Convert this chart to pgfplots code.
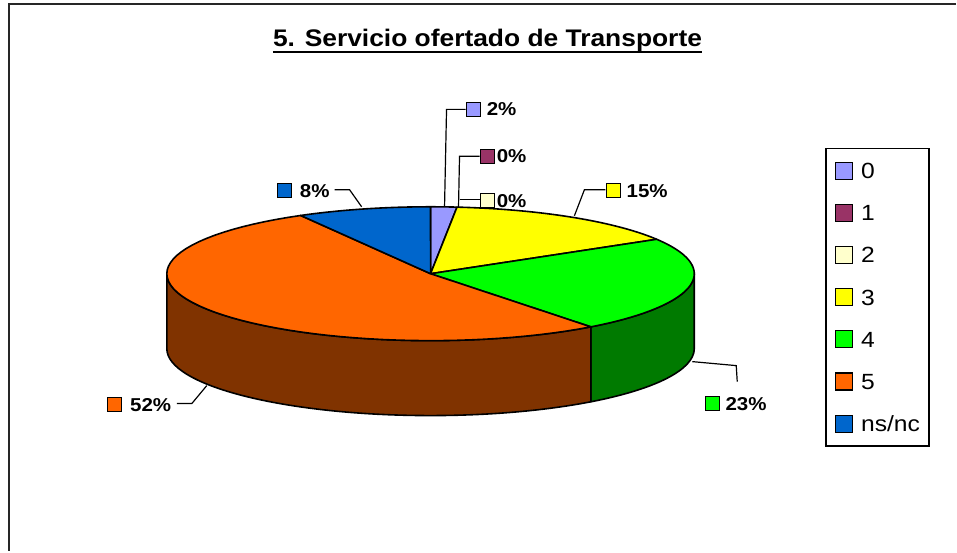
\documentclass[border=0pt]{standalone}
\usepackage{pgfplots}
\pgfplotsset{compat=1.18}
\usepackage{pgfplotstable}
\usepackage{graphicx}
\usepackage{fontspec}
\setmainfont{Liberation Sans}

\definecolor{c0}{HTML}{9999FF}
\definecolor{c1}{HTML}{993366}
\definecolor{c2}{HTML}{FFFFCC}
\definecolor{c3}{HTML}{FFFF00}
\definecolor{c4}{HTML}{00FF00}
\definecolor{c5}{HTML}{FF6600}
\definecolor{c6}{HTML}{0066CC}
\definecolor{s4}{HTML}{007A00}
\definecolor{s5}{HTML}{803300}

% share of each category (percent)
\pgfplotstableread{
cat val
0 1.6
1 0
2 0
3 14.8
4 23.2
5 52.2
ns/nc 8.2
}\piedata

\pgfplotstablegetelem{0}{val}\of\piedata \pgfmathsetmacro\tB{3.6*\pgfplotsretval}
\pgfplotstablegetelem{1}{val}\of\piedata \pgfmathsetmacro\tC{\tB+3.6*\pgfplotsretval}
\pgfplotstablegetelem{2}{val}\of\piedata \pgfmathsetmacro\tD{\tC+3.6*\pgfplotsretval}
\pgfplotstablegetelem{3}{val}\of\piedata \pgfmathsetmacro\tE{\tD+3.6*\pgfplotsretval}
\pgfplotstablegetelem{4}{val}\of\piedata \pgfmathsetmacro\tF{\tE+3.6*\pgfplotsretval}
\pgfplotstablegetelem{5}{val}\of\piedata \pgfmathsetmacro\tG{\tF+3.6*\pgfplotsretval}
\pgfmathsetmacro\sF{90-\tF}
\pgfmathsetmacro\xF{431+264*sin(\tF)}
\pgfmathsetmacro\yFb{274+75-67*cos(\tF)}

\newcommand{\lbl}{\bfseries\fontsize{14}{16}\selectfont}
\newcommand{\slice}[3]{%
  \addplot[fill=#1, draw=black, line width=1.2pt, line join=round, domain=#2:#3,
    samples=60, variable=\t, forget plot]
    ({431+264*sin(\t)},{274-67*cos(\t)}) -- (axis cs:431,274) -- cycle;}
\newcommand{\plabel}[6]{% square x, square center y, color, text x, baseline, text
  \draw[fill=#3, draw=black, line width=0.9pt] (axis cs:#1,#2-7) rectangle (axis cs:#1+14,#2+7);
  \node[anchor=base west, inner sep=0pt, font=\lbl] at (axis cs:#4,#5) {\scalebox{1.1}[1]{#6}};}

\begin{document}
\begin{tikzpicture}
\begin{axis}[
  scale only axis, width=717.75pt, height=414pt,
  xmin=0, xmax=957, ymin=0, ymax=552, y dir=reverse,
  hide axis, clip=false,
  legend image code/.code={\draw[#1, draw=black, line width=0.9pt] (0pt,-6.375pt) rectangle (12.75pt,6.375pt);},
  legend cell align=left,
  legend style={at={(axis cs:826,148)}, anchor=north west, draw=black, line width=1.2pt,
    fill=white, inner xsep=6.75pt, inner ysep=9.75pt, column sep=6pt, row sep=18pt,
    font=\fontsize{16.5}{18}\selectfont,
    nodes={inner xsep=0pt, inner ysep=0pt, text height=12.25pt, text depth=0.5pt}},
]
\path (axis cs:0,0) rectangle (axis cs:957,552);

% side walls
\addplot[fill=s4, draw=black, line width=1.2pt, line join=round, domain=90:\tF, samples=40, variable=\t, forget plot]
  ({431+264*sin(\t)},{274-67*cos(\t)}) -- (axis cs:\xF,\yFb)
  arc[start angle=\sF, end angle=0, x radius=198pt, y radius=50.25pt] -- cycle;
\addplot[fill=s5, draw=black, line width=1.2pt, line join=round, domain=\tF:270, samples=80, variable=\t, forget plot]
  ({431+264*sin(\t)},{274-67*cos(\t)}) -- (axis cs:167,349)
  arc[start angle=-180, end angle=\sF, x radius=198pt, y radius=50.25pt] -- cycle;

% top face
\slice{c0}{0}{\tB}
\slice{c3}{\tD}{\tE}
\slice{c4}{\tE}{\tF}
\slice{c5}{\tF}{\tG}
\slice{c6}{\tG}{360}

% leader lines
\addplot[black, line width=0.9pt, forget plot] coordinates {(466,109.5) (447,109.5) (445,207)};
\addplot[black, line width=0.9pt, forget plot] coordinates {(480,156.5) (460,156.5) (459,207)};
\addplot[black, line width=0.9pt, forget plot] coordinates {(480,200) (460,200)};
\addplot[black, line width=0.9pt, forget plot] coordinates {(606,190) (585,190) (575,216)};
\addplot[black, line width=0.9pt, forget plot] coordinates {(335,190) (350,190) (362,207)};
\addplot[black, line width=0.9pt, forget plot] coordinates {(177,404) (192,404) (207,386)};
\addplot[black, line width=0.9pt, forget plot] coordinates {(693,362) (737,366) (738,382)};

% data labels
\plabel{467}{109.5}{c0}{487}{116}{2\%}
\plabel{481}{156.5}{c1}{497}{163}{0\%}
\plabel{481}{201}{c2}{497}{207.5}{0\%}
\plabel{607}{191}{c3}{627}{197.5}{15\%}
\plabel{278}{191}{c6}{300}{197.5}{8\%}
\plabel{108}{405}{c5}{130}{411.5}{52\%}
\plabel{706}{404}{c4}{726}{410.5}{23\%}

% title
\node[anchor=base, inner sep=0pt, font=\bfseries\fontsize{18}{22}\selectfont] (title) at (axis cs:488,47)
  {\scalebox{1.1}[1]{5. Servicio ofertado de Transporte}};
\draw[line width=1.5pt] ([yshift=-3.9pt]title.base west) -- ([yshift=-3.9pt]title.base east);

% chart frame
\draw[line width=1.5pt, black!85] (axis cs:957,4) -- (axis cs:9,4) -- (axis cs:9,552);

% legend
\addlegendimage{fill=c0}\addlegendentry{\scalebox{1.12}[1]{0}}
\addlegendimage{fill=c1}\addlegendentry{\scalebox{1.12}[1]{1}}
\addlegendimage{fill=c2}\addlegendentry{\scalebox{1.12}[1]{2}}
\addlegendimage{fill=c3}\addlegendentry{\scalebox{1.12}[1]{3}}
\addlegendimage{fill=c4}\addlegendentry{\scalebox{1.12}[1]{4}}
\addlegendimage{fill=c5}\addlegendentry{\scalebox{1.12}[1]{5}}
\addlegendimage{fill=c6}\addlegendentry{\scalebox{1.12}[1]{ns/nc}}
\end{axis}
\end{tikzpicture}
\end{document}
